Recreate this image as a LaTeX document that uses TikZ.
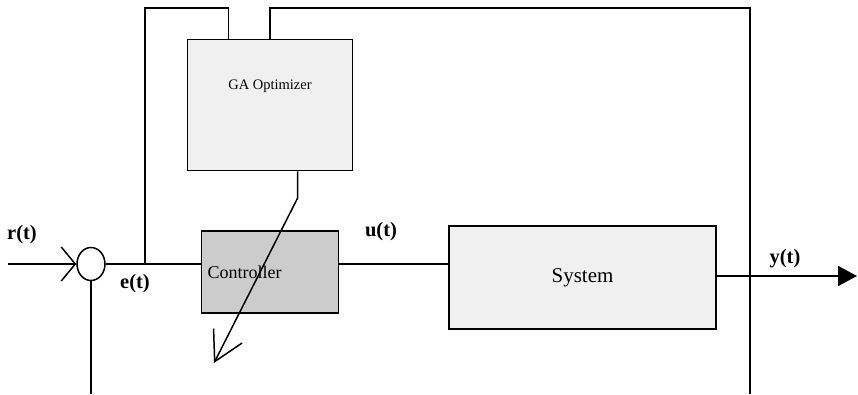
\documentclass[tikz,border=0pt]{standalone}
\usepackage{fontspec}
\setmainfont{Liberation Serif}
\usepackage{tikz}
\usetikzlibrary{positioning,shapes.geometric,arrows.meta}
\definecolor{blockfill}{HTML}{F0F0F0}
\definecolor{ctrlfill}{HTML}{CCCCCC}
\tikzset{
  block/.style={draw, line width=1.5pt, fill=blockfill, inner sep=0pt},
  sumjunc/.style={draw, ellipse, line width=1.5pt, minimum width=28pt, minimum height=33pt, inner sep=0pt},
  wire/.style={line width=1.5pt},
  sig/.style={font=\fontsize{20.5}{24}\selectfont\bfseries},
  openarrow/.style={-{Straight Barb[length=14pt, width=34pt]}},
  tunearrow/.style={-{Straight Barb[length=29pt, width=32pt]}},
  outarrow/.style={-{Triangle[length=19pt, width=20pt]}}
}

\begin{document}
\begin{tikzpicture}[x=1pt, y=-1pt]
  \useasboundingbox (0,0) rectangle (858,394);
  \node[sumjunc] (sum) at (91,264) {};
  \node[block, fill=ctrlfill, text width=125pt, minimum height=82pt, inner xsep=6pt, align=left,
        font=\fontsize{18}{21}\selectfont, right=95pt of sum, yshift=-8pt] (ctrl) {Controller};
  \node[block, minimum width=165pt, minimum height=131pt, above=59pt of ctrl] (ga) {};
  \node[font=\fontsize{14.5}{17}\selectfont] (galabel) at ([yshift=18.5pt]ga.center) {GA Optimizer};
  \node[block, minimum width=267pt, minimum height=103pt, font=\fontsize{21}{25}\selectfont,
        right=109pt of ctrl, yshift=-5.5pt] (sys) {System};

  \coordinate (rin) at (8,264);
  \coordinate (branch) at (145,264);
  \coordinate (lefttop) at (145,8);
  \coordinate (righttop) at (750,8);
  \coordinate (rightbot) at (750,394);
  \coordinate (sumbot) at (91,394);
  \coordinate (tunetip) at (214,363);
  \coordinate (yout) at (857,276);

  \draw[wire, openarrow] (rin) -- (sum.west);
  \draw[wire] (sum.east) -- (sum.east -| ctrl.west);
  \draw[wire] (sum.east -| ctrl.east) -- (sum.east -| sys.west);
  \draw[wire] (branch) -- (lefttop) -| ([xshift=-41.5pt]ga.north);
  \draw[wire] (ga.north) |- (righttop) -- (rightbot);
  \draw[wire] (sum.south) -- (sumbot);
  \draw[wire, tunearrow] ([xshift=27.5pt]ga.south) -- ++(0,27) -- (tunetip);
  \draw[wire, outarrow] (sys.east |- yout) -- (yout);

  \node[sig] (rlab) at (22,235) {r(t)};
  \node[sig] (elab) at (135,284) {e(t)};
  \node[sig] (ulab) at (381,232) {u(t)};
  \node[sig] (ylab) at (785,259) {y(t)};
\end{tikzpicture}
\end{document}
